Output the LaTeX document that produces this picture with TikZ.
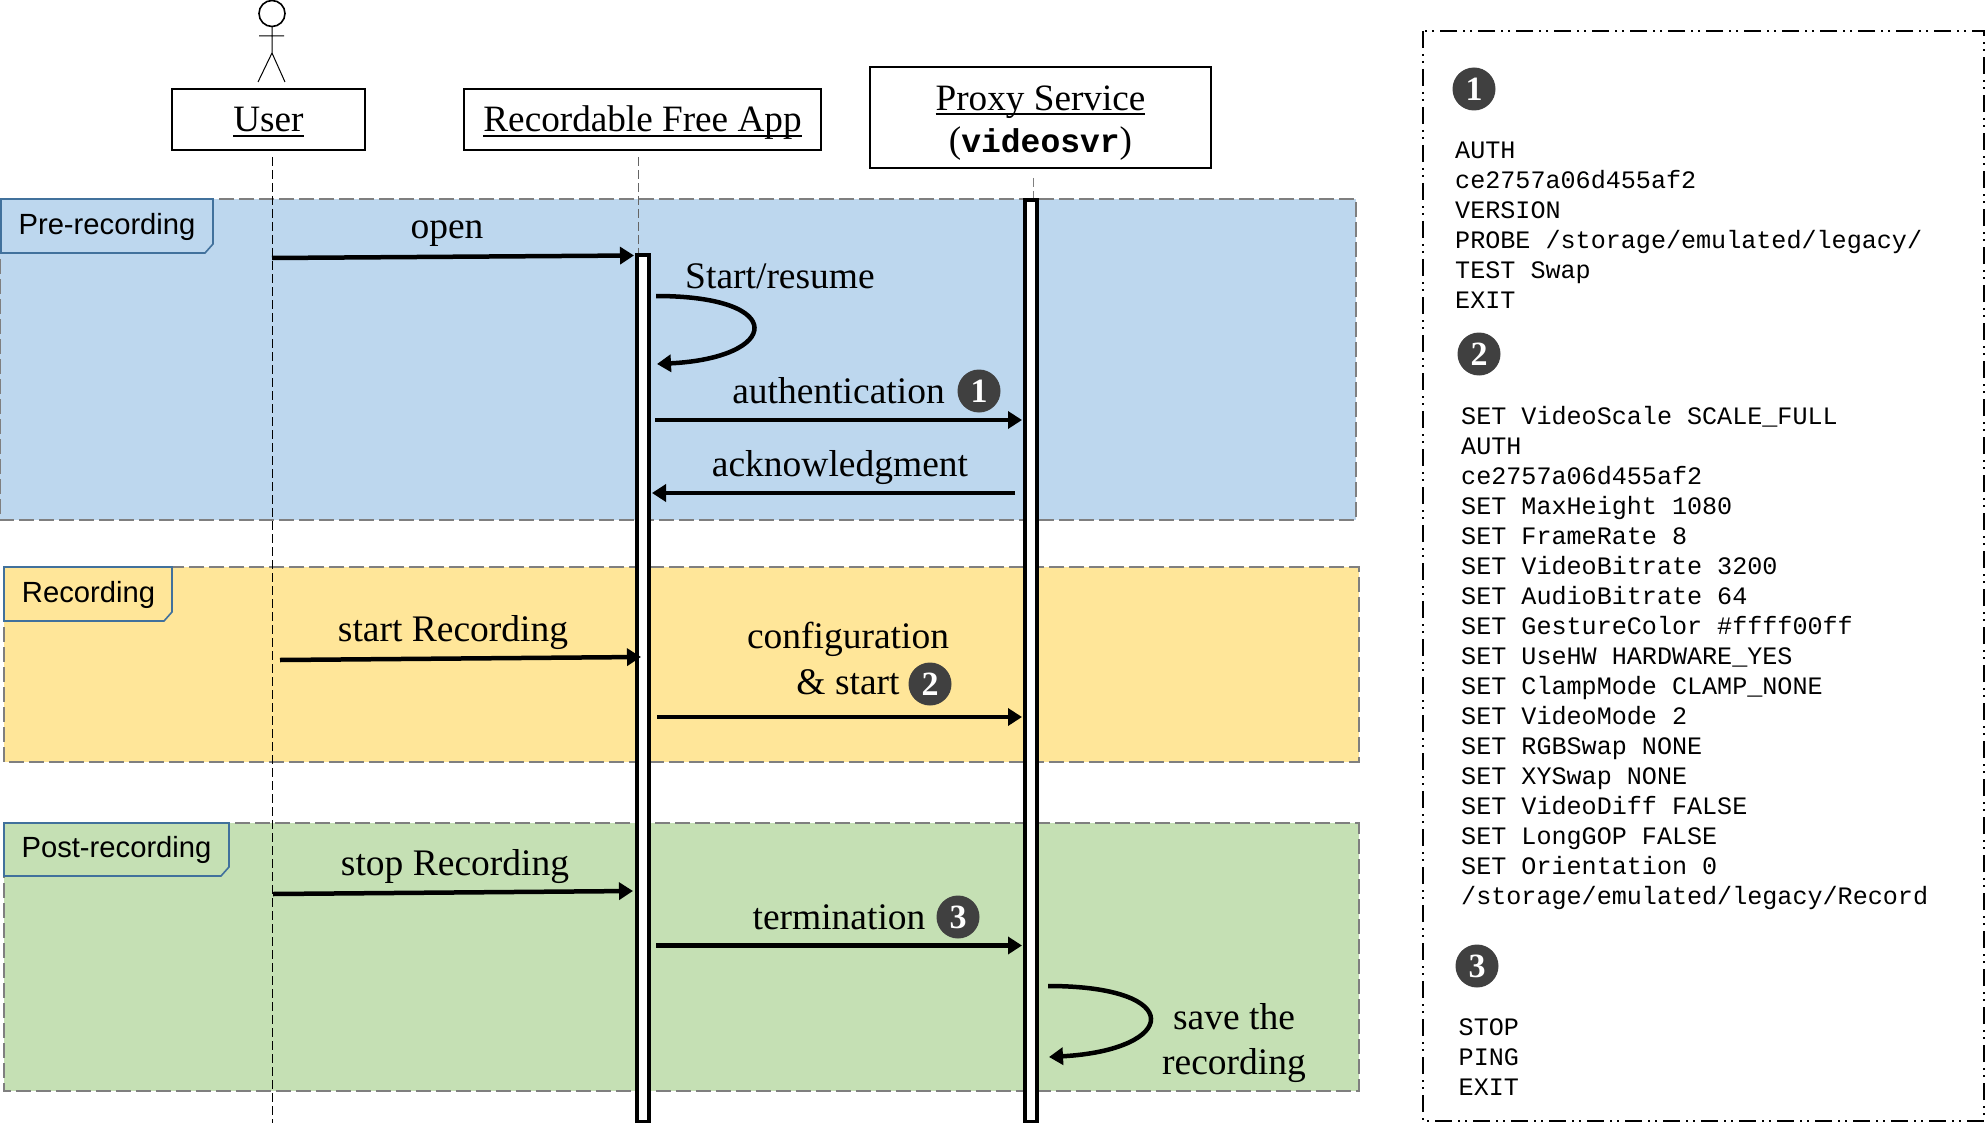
\documentclass[tikz,border=0pt]{standalone}
\usepackage{fontspec}
\setmainfont{Liberation Serif}
\setmonofont{Liberation Mono}
\newfontfamily\tabfont{Liberation Sans}
\usetikzlibrary{arrows.meta}
\newsavebox{\actorbox}
\newcommand{\actorname}[1]{\sbox{\actorbox}{#1}\rlap{\smash{\rule[-5pt]{\wd\actorbox}{1.8pt}}}\usebox{\actorbox}}
\definecolor{prefill}{HTML}{BDD7EE}
\definecolor{recfill}{HTML}{FFE699}
\definecolor{postfill}{HTML}{C5E0B4}
\definecolor{tabblue}{HTML}{41719C}
\definecolor{dashgray}{HTML}{7F7F7F}
\definecolor{badgegray}{HTML}{404040}
\tikzset{
    phase/.style={draw=dashgray, line width=2pt, dash pattern=on 15pt off 5pt},
    phasetab/.style={draw=tabblue, line width=1.6pt},
    tablabel/.style={inner sep=0pt, font=\tabfont\fontsize{29.2}{32}\selectfont},
    actor/.style={draw, line width=2pt, inner sep=0pt, align=center, font=\fontsize{37.2}{42}\selectfont},
    oneline/.style={text height=30pt, text depth=5pt},
    lifeline/.style={line width=1pt, dash pattern=on 9pt off 4pt},
    activebar/.style={draw, fill=white, line width=4pt, minimum width=12pt, inner sep=0pt},
    msg/.style={line width=4.5pt, -{Triangle[length=14pt,width=17pt]}},
    msglabel/.style={inner sep=0pt, align=center, font=\fontsize{37.5}{45}\selectfont},
    badge/.style={circle, fill=badgegray, text=white, minimum size=43pt, inner sep=0pt, font=\bfseries\fontsize{34}{34}\selectfont},
    codeblock/.style={anchor=north west, inner sep=0pt, align=left, font=\ttfamily\fontsize{25.1}{30}\selectfont},
}
\begin{document}
\begin{tikzpicture}[x=1pt,y=-1pt]
    \useasboundingbox (0,0) rectangle (1985,1123);

    % phases
    \fill[prefill] (0,199) rectangle (1356,520);
    \draw[phase] (0,199) rectangle (1356,520);
    \fill[recfill] (4,567) rectangle (1359,762);
    \draw[phase] (4,567) rectangle (1359,762);
    \fill[postfill] (4,823) rectangle (1359,1091);
    \draw[phase] (4,823) rectangle (1359,1091);
    \draw[phasetab, fill=prefill] (1,199) -- (213,199) -- (213,244) -- (205,253) -- (1,253) -- cycle;
    \draw[phasetab, fill=recfill] (4,567) -- (172,567) -- (172,612) -- (164,621) -- (4,621) -- cycle;
    \draw[phasetab, fill=postfill] (4,823) -- (229,823) -- (229,867) -- (221,876) -- (4,876) -- cycle;
    \node[tablabel] (pretab) at (107,226.5) {Pre-recording};
    \node[tablabel] (rectab) at (88.5,595) {Recording};
    \node[tablabel] (posttab) at (116.5,849.5) {Post-recording};

    % stick figure
    \draw[line width=1.6pt] (272,13.5) circle (13pt);
    \draw[line width=1pt] (272,26.5) -- (272,53) (259,36) -- (284,36) (258,82) -- (272,53) -- (285,82);

    % lifelines and boxes
    \node[actor, oneline, minimum width=193pt, minimum height=61pt] (userbox) at (268.5,119.5) {\actorname{User}};
    \node[actor, oneline, minimum width=357pt, minimum height=61pt] (appbox) at (642.5,119.5) {\actorname{Recordable Free App}};
    \node[actor, minimum width=341pt, minimum height=101pt] (proxybox) at (1040.5,117.5) {\rule{0pt}{35pt}\actorname{Proxy Service}\\(\textbf{\texttt{\fontsize{33}{42}\selectfont videosvr}})};

    \coordinate (usertop) at (272,157);
    \coordinate (userend) at (272,1123);
    \coordinate (apptop) at (638,157);
    \coordinate (append) at (638,258);
    \coordinate (proxytop) at (1033,178);
    \coordinate (proxyend) at (1033,202);
    \draw[lifeline] (usertop) -- (userend);
    \draw[lifeline, dashgray!80!black] (apptop) -- (append);
    \draw[lifeline, dashgray] (proxytop) -- (proxyend);

    \node[activebar, minimum height=866pt] (appbar) at (643,688.5) {};
    \node[activebar, minimum height=921pt] (proxybar) at (1031,661) {};

    % messages
    \coordinate (opena) at (272,258);
    \coordinate (openb) at (634,255.5);
    \draw[msg] (opena) -- (openb);
    \node[msglabel] (openlabel) at (447,234) {open};

    \coordinate (startc) at (656,296);
    \coordinate (startd) at (657,364);
    \draw[msg] (startc) .. controls (790,296) and (780,358) .. (startd);
    \node[msglabel] (startlabel) at (780,276) {Start/resume};

    \coordinate (autha) at (655,420);
    \coordinate (authb) at (1022,420);
    \draw[msg] (autha) -- (authb);
    \node[msglabel] (authlabel) at (838.5,391) {authentication};
    \node[badge] (authbadge) at (979,391) {1};

    \coordinate (acka) at (1015,493);
    \coordinate (ackb) at (652,493);
    \draw[msg] (acka) -- (ackb);
    \node[msglabel] (acklabel) at (840,468) {acknowledgment};

    \coordinate (reca) at (280,660);
    \coordinate (recb) at (641,657);
    \draw[msg] (reca) -- (recb);
    \node[msglabel] (reclabel) at (453,633) {start Recording};

    \coordinate (confa) at (657,717);
    \coordinate (confb) at (1022,717);
    \draw[msg] (confa) -- (confb);
    \node[msglabel] (conflabel) at (848,639.5) {configuration};
    \node[msglabel] (conflabeltwo) at (848,682) {\& start};
    \node[badge] (confbadge) at (930,684) {2};

    \coordinate (stopa) at (273,894);
    \coordinate (stopb) at (633,891);
    \draw[msg] (stopa) -- (stopb);
    \node[msglabel] (stoplabel) at (455,866.5) {stop Recording};

    \coordinate (terma) at (656,945.5);
    \coordinate (termb) at (1022,945.5);
    \draw[msg] (terma) -- (termb);
    \node[msglabel] (termlabel) at (839,917) {termination};
    \node[badge] (termbadge) at (958,917) {3};

    \coordinate (savec) at (1048,986);
    \coordinate (saved) at (1049,1057);
    \draw[msg] (savec) .. controls (1188,986) and (1178,1050) .. (saved);
    \node[msglabel] (savelabel) at (1234,1043) {save the\\recording};

    % commands panel
    \draw[line width=2pt, dash pattern=on 17pt off 6pt on 2pt off 5pt on 2pt off 6pt] (1423,31) rectangle (1984,1121);
    \node[badge] (panelone) at (1474,89) {1};
    \node[codeblock] (codeone) at (1455,142) {AUTH\\ce2757a06d455af2\\VERSION\\PROBE /storage/emulated/legacy/\\TEST Swap\\EXIT};
    \node[badge] (paneltwo) at (1479,354) {2};
    \node[codeblock] (codetwo) at (1461,406) {SET VideoScale SCALE\_FULL\\AUTH\\ce2757a06d455af2\\SET MaxHeight 1080\\SET FrameRate 8\\SET VideoBitrate 3200\\SET AudioBitrate 64\\SET GestureColor \#ffff00ff\\SET UseHW HARDWARE\_YES\\SET ClampMode CLAMP\_NONE\\SET VideoMode 2\\SET RGBSwap NONE\\SET XYSwap NONE\\SET VideoDiff FALSE\\SET LongGOP FALSE\\SET Orientation 0\\/storage/emulated/legacy/Record};
    \node[badge] (panelthree) at (1477,966) {3};
    \node[codeblock] (codethree) at (1458.5,1018) {STOP\\PING\\EXIT};
\end{tikzpicture}
\end{document}
